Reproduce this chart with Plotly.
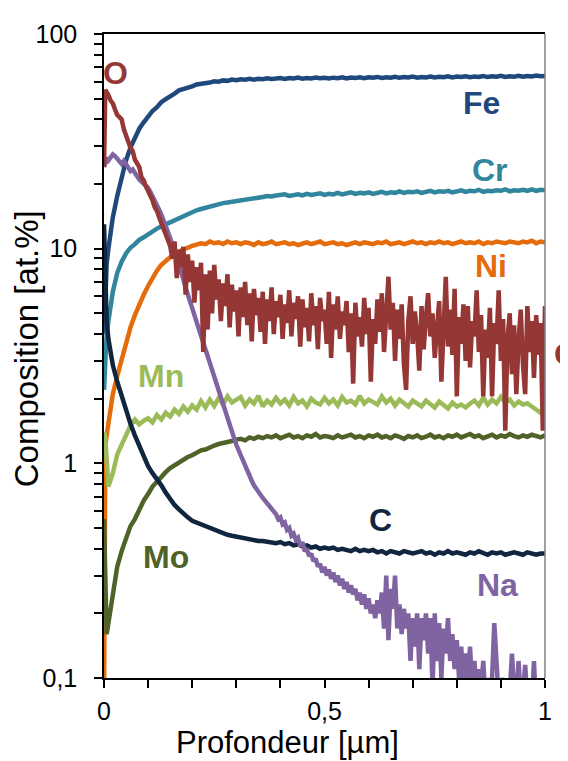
import plotly.graph_objects as go

# ---------------- data ----------------
# depth grid for the smoother profiles (µm)
DEPTH = [0, 0.003, 0.006] + [round(i * 0.01, 3) for i in range(1, 101)]
# finer depth grid for the noisy O and Na profiles (µm)
DEPTH_FINE = [0, 0.003, 0.006] + [round(0.01 + i * 0.005, 3) for i in range(199)]

FE = [4.0, 6.5, 8.5,
      10.0, 14.0, 17.6, 21.5, 25.8, 29.6, 33.0, 36.2, 38.8, 41.4,
      43.8, 45.6, 48.1, 49.7, 51.6, 52.8, 54.6, 55.3, 56.7, 57.0,
      58.2, 58.4, 59.3, 59.4, 60.2, 60.0, 60.8, 60.5, 61.3, 60.9,
      61.5, 61.2, 61.8, 61.3, 61.9, 61.6, 62.2, 61.7, 62.0, 62.4,
      61.8, 62.3, 62.0, 62.6, 61.9, 62.4, 62.1, 62.7, 62.2, 62.5,
      62.0, 62.6, 62.3, 62.9, 62.1, 62.7, 62.4, 62.8, 62.2, 62.9,
      62.5, 63.1, 62.4, 62.9, 62.6, 63.2, 62.5, 63.0, 62.7, 63.3,
      62.6, 63.1, 62.8, 63.4, 62.7, 63.2, 62.9, 63.5, 62.8, 63.3,
      63.0, 63.6, 62.9, 63.4, 63.1, 63.7, 63.0, 63.5, 63.2, 63.8,
      63.1, 63.6, 63.3, 63.9, 63.2, 63.7, 63.4, 64.0, 63.5, 63.8]

CR = [2.2, 3.3, 4.0,
      4.6, 6.3, 7.7, 8.7, 9.5, 10.1, 10.5, 11.0, 11.3, 11.7,
      12.0, 12.4, 12.7, 13.0, 13.3, 13.6, 13.9, 14.2, 14.5, 14.9,
      15.1, 15.3, 15.5, 15.8, 16.0, 16.1, 16.3, 16.4, 16.5, 16.7,
      16.8, 16.9, 17.0, 17.2, 17.3, 17.4, 17.6, 17.5, 17.7, 17.7,
      17.9, 17.6, 17.8, 17.9, 17.7, 18.0, 17.8, 17.9, 18.1, 17.8,
      18.0, 17.9, 18.2, 17.9, 18.1, 18.3, 18.0, 18.2, 18.1, 18.3,
      18.0, 18.2, 18.4, 18.1, 18.3, 18.2, 18.5, 18.2, 18.4, 18.3,
      18.5, 18.2, 18.4, 18.6, 18.3, 18.5, 18.4, 18.6, 18.3, 18.5,
      18.7, 18.4, 18.6, 18.5, 18.8, 18.4, 18.6, 18.5, 18.7, 18.6,
      18.9, 18.5, 18.7, 18.6, 18.8, 18.6, 18.9, 18.6, 18.8, 18.7]

NI = [0.07, 1.2, 1.35,
      1.55, 2.1, 2.55, 3.05, 3.6, 4.3, 4.9, 5.5, 6.1, 6.7,
      7.3, 7.9, 8.4, 8.8, 9.2, 9.5, 9.7, 9.95, 10.1, 10.3,
      10.4, 10.6, 10.5, 10.8, 10.6, 10.7, 10.5, 10.8, 10.6, 10.7,
      10.5, 10.7, 10.6, 10.4, 10.7, 10.5, 10.6, 10.8, 10.5, 10.6,
      10.7, 10.5, 10.6, 10.4, 10.6, 10.7, 10.5, 10.6, 10.8, 10.5,
      10.6, 10.7, 10.5, 10.6, 10.4, 10.6, 10.7, 10.5, 10.7, 10.6,
      10.5, 10.7, 10.6, 10.8, 10.5, 10.6, 10.7, 10.5, 10.6, 10.8,
      10.6, 10.7, 10.5, 10.7, 10.6, 10.8, 10.6, 10.7, 10.5, 10.7,
      10.8, 10.6, 10.7, 10.6, 10.8, 10.5, 10.7, 10.6, 10.8, 10.7,
      10.6, 10.8, 10.7, 10.6, 10.8, 10.7, 10.9, 10.6, 10.8, 10.7]

MN = [1.4, 1.3, 1.05,
      0.78, 0.9, 1.1, 1.22, 1.36, 1.5, 1.6, 1.52, 1.58, 1.62,
      1.55, 1.68, 1.6, 1.72, 1.65, 1.78, 1.7, 1.84, 1.74, 1.86,
      1.78, 1.95, 1.82, 1.98, 1.85, 2.02, 1.88, 2.05, 1.92, 1.98,
      2.04, 1.86, 1.98, 1.9, 2.06, 1.84, 1.96, 1.88, 2.02, 1.9,
      1.98, 1.86, 2.04, 1.9, 1.96, 1.84, 2.0, 1.92, 1.88, 2.02,
      1.9, 1.98, 1.86, 2.04, 1.92, 1.96, 1.88, 2.06, 1.9, 1.98,
      1.94, 1.88, 2.05, 1.92, 2.0, 1.86, 1.98, 1.9, 1.84, 1.96,
      1.9, 1.84, 1.96, 1.88, 1.82, 1.94, 1.86, 1.8, 1.92, 1.84,
      1.88, 1.82, 1.9, 1.96, 1.86, 2.02, 1.88, 1.98, 1.9, 2.04,
      1.92, 1.98, 1.86, 1.94, 1.88, 1.9, 1.84, 1.78, 1.72, 1.85]

MO = [0.55, 0.22, 0.16,
      0.18, 0.25, 0.33, 0.39, 0.45, 0.51, 0.55, 0.61, 0.67, 0.72,
      0.78, 0.82, 0.87, 0.91, 0.95, 0.98, 1.01, 1.04, 1.07, 1.09,
      1.12, 1.15, 1.16, 1.19, 1.21, 1.23, 1.24, 1.26, 1.27, 1.29,
      1.3, 1.28, 1.32, 1.3, 1.33, 1.31, 1.34, 1.32, 1.35, 1.31,
      1.33, 1.36, 1.32, 1.34, 1.31, 1.35, 1.33, 1.37, 1.32, 1.34,
      1.33, 1.31, 1.35, 1.32, 1.34, 1.36, 1.32, 1.34, 1.31, 1.35,
      1.33, 1.36, 1.32, 1.34, 1.31, 1.35, 1.33, 1.3, 1.34, 1.32,
      1.35, 1.31, 1.33, 1.36, 1.32, 1.34, 1.31, 1.35, 1.33, 1.36,
      1.32, 1.34, 1.37, 1.33, 1.35, 1.31, 1.34, 1.36, 1.32, 1.35,
      1.33, 1.37, 1.34, 1.32, 1.35, 1.33, 1.36, 1.34, 1.32, 1.35]

C = [13.0, 6.5, 4.6,
     3.8, 2.87, 2.4, 2.05, 1.75, 1.53, 1.35, 1.2, 1.07, 0.97,
     0.9, 0.85, 0.79, 0.73, 0.68, 0.64, 0.61, 0.58, 0.56, 0.54,
     0.53, 0.52, 0.51, 0.5, 0.49, 0.48, 0.475, 0.465, 0.46, 0.455,
     0.45, 0.445, 0.44, 0.44, 0.435, 0.435, 0.43, 0.43, 0.425, 0.43,
     0.42, 0.425, 0.415, 0.42, 0.41, 0.415, 0.405, 0.41, 0.4, 0.405,
     0.4, 0.405, 0.395, 0.4, 0.395, 0.39, 0.4, 0.39, 0.395, 0.39,
     0.395, 0.385, 0.39, 0.38, 0.39, 0.385, 0.38, 0.39, 0.385, 0.38,
     0.385, 0.39, 0.38, 0.385, 0.375, 0.385, 0.38, 0.39, 0.38, 0.385,
     0.38, 0.375, 0.385, 0.38, 0.39, 0.38, 0.375, 0.385, 0.38, 0.385,
     0.375, 0.38, 0.385, 0.38, 0.375, 0.385, 0.38, 0.375, 0.38, 0.38]

O = [24, 55, 53.5,
     52, 49, 47.5, 44.5, 42, 41, 40, 36, 33.5, 31.5,
     29.5, 28.5, 26, 25, 24, 21.5, 20.8, 19.5, 18.6, 17.6,
     16.8, 15.6, 15, 14, 13.2, 12.3, 11.6, 10.9, 10.3, 9.0,
     10.8, 7.3, 9.9, 8.2, 10.2, 6.1, 9.4, 7.0, 8.8, 5.6,
     8.2, 6.4, 8.6, 3.3, 7.6, 4.2, 7.9, 5.0, 8.4, 5.8,
     7.2, 4.6, 6.9, 5.4, 7.6, 4.3, 6.8, 5.1, 6.4, 3.9,
     6.6, 4.8, 7.0, 4.4, 6.2, 3.7, 6.5, 4.9, 5.9, 4.1,
     6.3, 3.6, 5.8, 4.6, 6.6, 4.0, 5.7, 4.8, 6.1, 3.8,
     5.5, 4.5, 6.4, 3.9, 5.6, 4.7, 6.0, 3.5, 5.8, 4.3,
     5.3, 3.7, 6.2, 4.4, 5.4, 3.4, 5.9, 4.6, 5.2, 3.6,
     6.3, 3.1, 5.5, 4.2, 6.0, 3.8, 5.1, 4.4, 5.7, 3.3,
     5.0, 2.35, 5.6, 3.9, 4.8, 3.5, 5.9, 4.0, 5.3, 2.4,
     4.7, 3.6, 5.8, 4.1, 6.2, 3.3, 5.0, 7.4, 4.2, 5.6,
     3.0, 5.2, 3.8, 5.5, 2.9, 2.2, 4.6, 6.0, 3.6, 5.1,
     4.0, 2.7, 5.4, 3.4, 4.8, 6.2, 3.9, 5.0, 3.1, 4.5,
     5.7, 2.4, 4.4, 7.4, 3.5, 5.2, 3.2, 6.5, 2.05, 4.8,
     3.6, 5.5, 3.0, 5.4, 2.8, 4.6, 3.9, 6.4, 3.3, 4.9,
     2.05, 4.2, 3.1, 5.3, 2.05, 4.5, 3.6, 6.4, 3.0, 4.7,
     1.42, 3.8, 5.0, 2.6, 4.4, 2.1, 3.7, 5.2, 2.9, 2.1,
     5.4, 3.3, 4.6, 2.5, 4.9, 3.2, 4.5, 1.42, 5.4]

NA = [24, 26, 26.5,
      25.8, 26.8, 27.5, 27.0, 26.2, 25.2, 24.8, 25.6, 24.6, 23.6,
      23.0, 23.4, 22.4, 21.8, 21.0, 20.5, 20.0, 19.8, 19.2, 18.4,
      17.6, 16.9, 16.1, 15.2, 14.4, 13.6, 12.8, 12.0, 11.2, 10.4,
      9.7, 9.1, 8.5, 7.8, 7.2, 6.6, 6.1, 5.7, 5.3, 4.9,
      4.6, 4.25, 3.95, 3.65, 3.4, 3.15, 2.92, 2.7, 2.5, 2.32,
      2.15, 2.0, 1.86, 1.73, 1.62, 1.5, 1.4, 1.31, 1.22, 1.15,
      1.08, 1.02, 0.97, 0.92, 0.87, 0.83, 0.79, 0.76, 0.73, 0.71,
      0.69, 0.67, 0.65, 0.63, 0.61, 0.6, 0.58, 0.55, 0.56, 0.52,
      0.53, 0.49, 0.5, 0.46, 0.47, 0.44, 0.45, 0.41, 0.43, 0.39,
      0.4, 0.37, 0.38, 0.35, 0.36, 0.33, 0.34, 0.31, 0.33, 0.3,
      0.32, 0.29, 0.31, 0.28, 0.3, 0.27, 0.29, 0.26, 0.28, 0.25,
      0.27, 0.245, 0.26, 0.23, 0.25, 0.22, 0.245, 0.21, 0.235, 0.2,
      0.22, 0.19, 0.23, 0.2, 0.25, 0.17, 0.3, 0.15, 0.26, 0.21,
      0.3, 0.17, 0.22, 0.16, 0.21, 0.17, 0.2, 0.12, 0.19, 0.14,
      0.2, 0.11, 0.19, 0.15, 0.2, 0.13, 0.19, 0.09, 0.2, 0.12,
      0.18, 0.1, 0.17, 0.13, 0.19, 0.12, 0.16, 0.11, 0.15, 0.1,
      0.14, 0.095, 0.13, 0.1, 0.14, 0.09, 0.12, 0.085, 0.11, 0.09,
      0.12, 0.08, 0.1, 0.085, 0.1, 0.18, 0.11, 0.08, 0.09, 0.1,
      0.08, 0.085, 0.085, 0.13, 0.09, 0.075, 0.12, 0.08, 0.085, 0.115,
      0.08, 0.08, 0.075, 0.12, 0.07, 0.08, 0.07, 0.08, 0.07]

X_TICKS = [0, 0.1, 0.2, 0.3, 0.4, 0.5, 0.6, 0.7, 0.8, 0.9, 1.0]
X_TICK_TEXT = ["0", "", "", "", "", "0,5", "", "", "", "", "1"]
Y_MAJOR = [0.1, 1, 10, 100]
Y_MAJOR_TEXT = ["0,1", "1", "10", "100"]

# ---------------- styling ----------------
COL = {
    "Fe": "#1F497D", "Cr": "#31859C", "Ni": "#E46C0A", "Mn": "#9BBB59",
    "Mo": "#4F6228", "C": "#10253F", "Na": "#8064A2", "O": "#953735",
}
FONT = "Liberation Sans, Arial, sans-serif"

series = [  # drawing order: bottom -> top
    ("Fe", DEPTH, FE), ("Cr", DEPTH, CR), ("Ni", DEPTH, NI), ("Mn", DEPTH, MN),
    ("Mo", DEPTH, MO), ("C", DEPTH, C), ("Na", DEPTH_FINE, NA), ("O", DEPTH_FINE, O),
]

fig = go.Figure()
for name, xs, ys in series:
    n = min(len(xs), len(ys))
    fig.add_trace(go.Scatter(x=xs[:n], y=ys[:n], mode="lines", name=name,
                             line=dict(color=COL[name], width=4.5),
                             showlegend=False, hoverinfo="skip"))

# y ticks: majors with labels, minors unlabeled
y_vals, y_text = [], []
for dec in [0.1, 1, 10]:
    for k in range(1, 10):
        v = round(dec * k, 4)
        y_vals.append(v)
        y_text.append(Y_MAJOR_TEXT[Y_MAJOR.index(v)] if v in Y_MAJOR else "")
y_vals.append(100)
y_text.append("100")

# the page body adds an 8px offset, so the figure is 8px smaller than the window
fig.update_layout(
    width=560, height=753,
    margin=dict(l=96, r=23, t=16, b=83),
    paper_bgcolor="white", plot_bgcolor="white",
    font=dict(family=FONT, color="black"),
    xaxis=dict(range=[0, 1], tickmode="array", tickvals=X_TICKS, ticktext=X_TICK_TEXT,
               ticks="outside", ticklen=8, tickwidth=1.5, tickcolor="black",
               showline=True, linecolor="black", linewidth=1.5, mirror=True,
               showgrid=False, zeroline=False, ticklabelstandoff=2,
               tickfont=dict(family=FONT, size=25, color="black")),
    yaxis=dict(type="log", range=[-1, 2], tickmode="array", tickvals=y_vals, ticktext=y_text,
               ticks="outside", ticklen=8, tickwidth=1.5, tickcolor="black",
               showline=True, linecolor="black", linewidth=1.5,
               showgrid=False, zeroline=False, ticklabelstandoff=12,
               tickfont=dict(family=FONT, size=25, color="black")),
)

# right border (gray)
fig.add_shape(type="line", xref="paper", yref="paper", x0=1, x1=1, y0=0, y1=1,
              line=dict(color="#808080", width=1.5))

# axis titles
fig.add_annotation(text="Profondeur [µm]", xref="paper", yref="paper",
                   x=0.417, y=-0.1, showarrow=False, xanchor="center", yanchor="middle",
                   font=dict(family=FONT, size=31, color="black"))
fig.add_annotation(text="Composition [at.%]", xref="paper", yref="paper",
                   x=-0.177, y=0.512, showarrow=False, textangle=-90,
                   xanchor="center", yanchor="middle",
                   font=dict(family=FONT, size=33, color="black"))

# element labels
labels = [
    ("O", 0.027, 0.939, "center"), ("Fe", 0.855, 0.893, "center"),
    ("Cr", 0.875, 0.789, "center"), ("Ni", 0.878, 0.639, "center"),
    ("O", 1.016, 0.503, "left"), ("Mn", 0.129, 0.469, "center"),
    ("C", 0.626, 0.245, "center"), ("Mo", 0.141, 0.188, "center"),
    ("Na", 0.893, 0.145, "center"),
]
for txt, xp, yp, xa in labels:
    fig.add_annotation(text="<b>%s</b>" % txt, xref="paper", yref="paper",
                       x=xp, y=yp, showarrow=False, xanchor=xa, yanchor="middle",
                       font=dict(family=FONT, size=32, color=COL[txt]))

fig.write_html("out.html")
